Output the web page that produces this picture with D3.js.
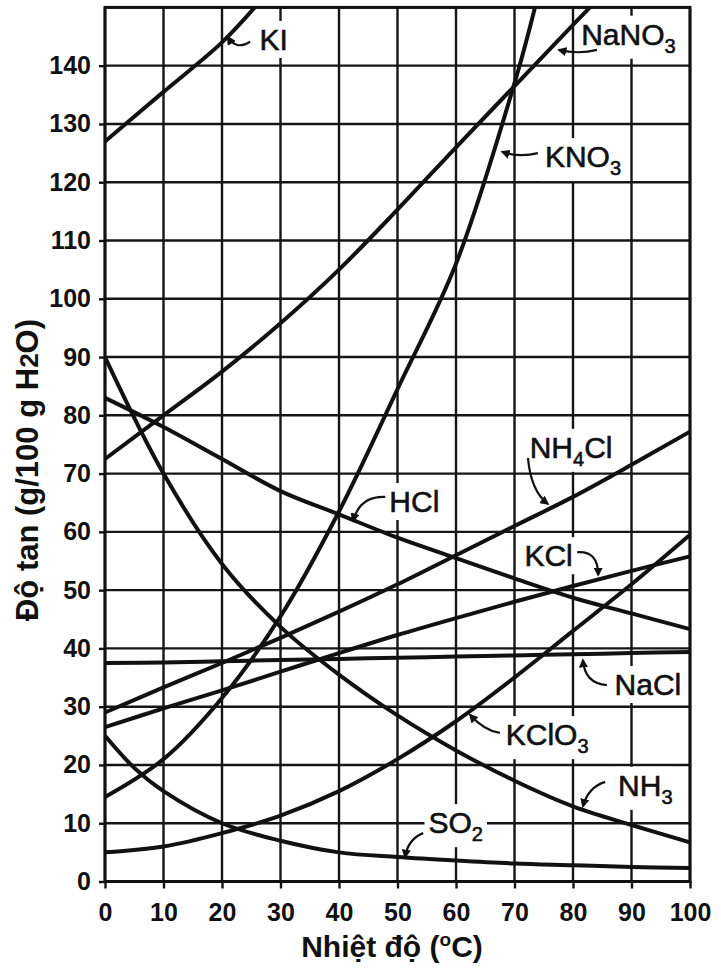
<!DOCTYPE html>
<html><head><meta charset="utf-8">
<script src="https://cdn.jsdelivr.net/npm/d3@7"></script>
<style>body{margin:0;background:#fff} svg{display:block}</style>
</head><body>
<svg id="c" width="721" height="970"></svg>
<script>
// ---------- data ----------
const xTicks = [0,10,20,30,40,50,60,70,80,90,100];
const yTicks = [0,10,20,30,40,50,60,70,80,90,100,110,120,130,140];
const temps  = [0,10,20,30,40,50,60,70,80,90,100];

const KI_t    = [0,10,20,25.6];
const KI      = [127,135.5,144,150];
const NaNO3_t = [0,10,20,30,40,50,60,70,80,82.9];
const NaNO3   = [72.5,80,87.5,95.8,105,115.3,126,136.5,147,150];
const KNO3_t  = [0,10,20,30,40,50,60,70,73.5];
const KNO3    = [14.5,21,31.5,45.5,63.5,84.5,106,137,150];
const HCl     = [83,78,72.5,67,63,59,55.5,52,48.7,46,43.3];
const NH4Cl   = [29,33.3,37.5,41.8,46.3,51,56,61,66,71.5,77.2];
const KCl     = [26.5,29.7,32.8,36,39.2,42.3,45.2,48,50.7,53.3,55.8];
const NaCl    = [37.5,37.6,37.8,38,38.2,38.4,38.6,38.8,39,39.2,39.4];
const KClO3   = [5,6,8.3,11.3,15.5,21,27.5,35,43,51,59.5];
const NH3     = [90,70,54.5,43.7,35.5,28.5,22.5,17.3,12.9,9.7,6.7];
const SO2_t   = [0,5,10,20,30,40,50,60,70,80,90,100];
const SO2     = [25,19.5,15.5,10,7,5,4.2,3.6,3.1,2.8,2.5,2.3];

const series = [
  {t:KI_t, v:KI}, {t:NaNO3_t, v:NaNO3}, {t:KNO3_t, v:KNO3},
  {t:temps, v:HCl}, {t:temps, v:NH4Cl}, {t:temps, v:KCl},
  {t:temps, v:NaCl}, {t:temps, v:KClO3}, {t:temps, v:NH3}, {t:SO2_t, v:SO2}
];

// labels: [main, sub, tail], anchor (°C, g), arrow [start, ctrl, end] in (°C, g)
const labelNames = [["K","","I"],["NaNO","3",""],["KNO","3",""],["HCl","",""],["NH","4","Cl"],
                    ["KCl","",""],["NaCl","",""],["KClO","3",""],["NH","3",""],["SO","2",""]];
const labelPos   = [[26.4,142.7],[81.4,143.6],[75.2,122.6],[48.6,63.4],[72.6,72.7],
                    [71.7,54.1],[87.1,32.0],[68.5,23.4],[87.7,14.7],[55.3,8.3]];
const arrows = [
  [[24.8,144.1],[22.4,142.6],[21.0,144.9]],
  [[84.1,142.7],[80.9,141.9],[77.6,142.7]],
  [[74.0,125.0],[70.9,124.2],[67.9,125.2]],
  [[47.9,66.0],[43.6,66.2],[42.4,61.9]],
  [[72.3,72.7],[72.8,67.0],[75.7,64.8]],
  [[80.7,56.5],[84.3,56.8],[84.3,52.6]],
  [[85.8,33.7],[82.0,34.0],[81.7,38.0]],
  [[67.5,25.5],[64.9,25.8],[62.4,28.6]],
  [[85.5,17.1],[82.6,16.2],[81.7,12.9]],
  [[54.4,8.3],[51.8,7.3],[51.3,4.2]]
];

// ---------- drawing ----------
const svg = d3.select('#c');
const x = d3.scaleLinear().domain([0,100]).range([105,690]);
const y = d3.scaleLinear().domain([0,150]).range([881.5,7.4]);
const FONT = '"Liberation Sans", Arial, Helvetica, sans-serif';

svg.append('defs').append('marker')
  .attr('id','ah').attr('viewBox','0 0 10 10').attr('refX',8).attr('refY',5)
  .attr('markerWidth',4.2).attr('markerHeight',4.2).attr('orient','auto')
  .append('path').attr('d','M0,0 L10,5 L0,10 Z').attr('fill','#111');

// grid
const grid = svg.append('g').attr('stroke','#151515').attr('stroke-width',2.4);
grid.selectAll('line.gx').data(xTicks).join('line')
  .attr('x1',d=>x(d)).attr('x2',d=>x(d)).attr('y1',y(150)).attr('y2',y(0));
grid.selectAll('line.gy').data(yTicks.concat([150])).join('line')
  .attr('y1',d=>y(d)).attr('y2',d=>y(d)).attr('x1',x(0)).attr('x2',x(100));
svg.append('rect').attr('x',x(0)).attr('y',y(150)).attr('width',x(100)-x(0)).attr('height',y(0)-y(150))
  .attr('fill','none').attr('stroke','#111').attr('stroke-width',3);

// axes
const yAx = svg.append('g').attr('transform',`translate(${x(0)},0)`)
  .call(d3.axisLeft(y).tickValues(yTicks).tickSize(6).tickPadding(8));
const xAx = svg.append('g').attr('transform',`translate(0,${y(0)})`)
  .call(d3.axisBottom(x).tickValues(xTicks).tickSize(7).tickPadding(15));
[yAx,xAx].forEach(g=>{
  g.select('.domain').remove();
  g.selectAll('.tick line').attr('stroke','#111').attr('stroke-width',2.4);
  g.selectAll('.tick text').attr('fill','#111').style('font-family',FONT)
   .style('font-size','25px').style('font-weight','bold');
});

// label groups (white knockout behind text)
const labG = svg.append('g');
const lineG = svg.append('g');
const textG = svg.append('g');

labelNames.forEach((nm,i)=>{
  const t = textG.append('text').attr('x',x(labelPos[i][0])).attr('y',y(labelPos[i][1]))
    .style('font-family',FONT).style('font-size','30px').attr('fill','#111')
    .attr('stroke','#111').attr('stroke-width',0.6);
  t.append('tspan').text(nm[0]);
  if(nm[1]) t.append('tspan').attr('dy',8).style('font-size','20px').text(nm[1]);
  if(nm[2]) t.append('tspan').attr('dy',nm[1]?-8:0).text(nm[2]);
  const b = t.node().getBBox();
  labG.append('rect').attr('x',b.x-4).attr('y',b.y-2).attr('width',b.width+8).attr('height',b.height+4)
    .attr('fill','#fff');
});

// curves
const line = d3.line().x(d=>x(d[0])).y(d=>y(d[1])).curve(d3.curveCatmullRom.alpha(0.5));
series.forEach(s=>{
  lineG.append('path').attr('d',line(s.t.map((tt,j)=>[tt,s.v[j]])))
    .attr('fill','none').attr('stroke','#111').attr('stroke-width',4).attr('stroke-linecap','butt');
});

// arrows
arrows.forEach(a=>{
  const p = d3.path();
  p.moveTo(x(a[0][0]),y(a[0][1]));
  p.quadraticCurveTo(x(a[1][0]),y(a[1][1]),x(a[2][0]),y(a[2][1]));
  textG.append('path').attr('d',p.toString()).attr('fill','none').attr('stroke','#111')
    .attr('stroke-width',2.2).attr('marker-end','url(#ah)');
});

// axis titles
const xt = svg.append('text').attr('x',392).attr('y',957).attr('text-anchor','middle')
  .style('font-family',FONT).style('font-size','30px').style('font-weight','bold').attr('fill','#111');
xt.append('tspan').text('Nhiệt độ (');
xt.append('tspan').attr('dy',-11).style('font-size','19px').text('o');
xt.append('tspan').attr('dy',11).text('C)');

const yt = svg.append('text').attr('transform','translate(38,470) rotate(-90)').attr('text-anchor','middle')
  .style('font-family',FONT).style('font-size','31px').style('font-weight','bold').attr('fill','#111');
yt.append('tspan').text('Độ tan (g/100 g H');
yt.append('tspan').style('font-size','26px').text('2');
yt.append('tspan').text('O)');
</script>
</body></html>
